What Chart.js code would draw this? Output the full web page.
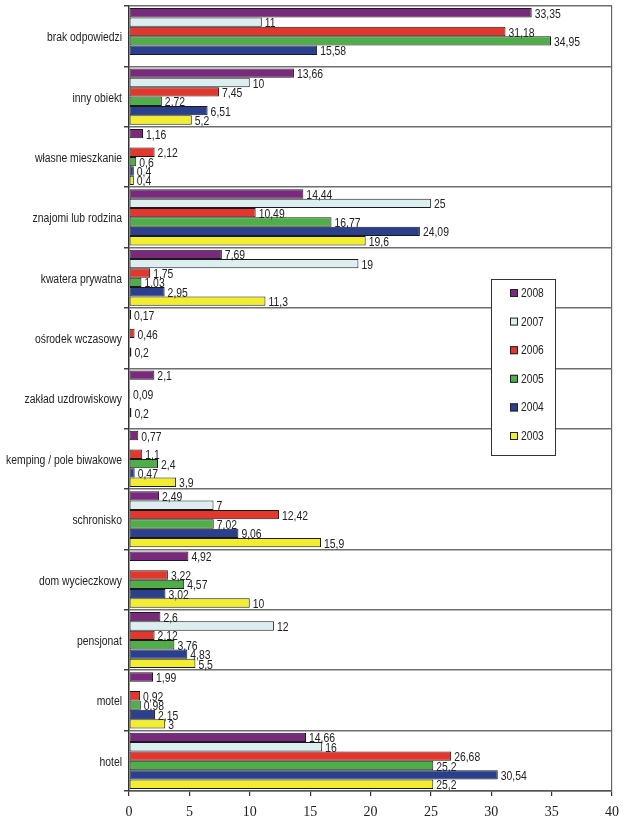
<!DOCTYPE html>
<html>
<head>
<meta charset="utf-8">
<script src="https://cdn.jsdelivr.net/npm/chart.js@4/dist/chart.umd.min.js"></script>
<style>
html,body{margin:0;padding:0;background:#fff;}
#wrap{position:relative;width:627px;height:834px;}
</style>
</head>
<body>
<div id="wrap"><canvas id="c" width="627" height="834"></canvas></div>
<script>
const categories = ["brak odpowiedzi","inny obiekt","własne mieszkanie","znajomi lub rodzina","kwatera prywatna","ośrodek wczasowy","zakład uzdrowiskowy","kemping / pole biwakowe","schronisko","dom wycieczkowy","pensjonat","motel","hotel"];
const seriesNames = ["2008","2007","2006","2005","2004","2003"];
const v2008 = [33.35,13.66,1.16,14.44,7.69,0.17,2.1,0.77,2.49,4.92,2.6,1.99,14.66];
const v2007 = [11,10,null,25,19,null,null,null,7,null,12,null,16];
const v2006 = [31.18,7.45,2.12,10.49,1.75,0.46,0.09,1.1,12.42,3.22,2.12,0.92,26.68];
const v2005 = [34.95,2.72,0.6,16.77,1.03,null,null,2.4,7.02,4.57,3.76,0.98,25.2];
const v2004 = [15.58,6.51,0.4,24.09,2.95,0.2,0.2,0.47,9.06,3.02,4.83,2.15,30.54];
const v2003 = [null,5.2,0.4,19.6,11.3,null,null,3.9,15.9,10,5.5,3,25.2];
const xTicks = [0,5,10,15,20,25,30,35,40];
const colors = ["#7a2a7c","#ddeef1","#e3372e","#4fae4a","#2a3f8e","#f2ee2e"];

const seriesValues = [v2008,v2007,v2006,v2005,v2004,v2003];
const sans = '"Liberation Sans",Arial,sans-serif';

function narrowText(ctx, text, x, y, align, sx){
  ctx.save();
  ctx.translate(x, y);
  ctx.scale(sx, 1);
  ctx.textAlign = align;
  ctx.fillText(text, 0, 0);
  ctx.restore();
}

const labelPlugin = {
  id:'valLabels',
  afterDatasetsDraw(chart){
    const ctx = chart.ctx;
    ctx.save();
    ctx.font = '13px ' + sans;
    ctx.fillStyle = '#222';
    ctx.textBaseline = 'middle';
    chart.data.datasets.forEach((ds,di)=>{
      const meta = chart.getDatasetMeta(di);
      meta.data.forEach((el,i)=>{
        const v = ds.data[i];
        if(v===null || v===undefined) return;
        narrowText(ctx, String(v).replace('.',','), el.x + 3, el.y + 1.5, 'left', 0.8);
      });
    });
    // category labels
    const ys = chart.scales.y;
    ctx.font = '12.5px ' + sans;
    categories.forEach((c,i)=>{
      narrowText(ctx, c, ys.right - 7, ys.getPixelForValue(i) + 1.5, 'right', 0.83);
    });
    ctx.restore();
  }
};

const legendPlugin = {
  id:'boxLegend',
  afterDraw(chart){
    const ctx = chart.ctx;
    const x0 = 491, y0 = 279, w = 64, h = 176;
    ctx.save();
    ctx.fillStyle = '#fff';
    ctx.fillRect(x0,y0,w,h);
    ctx.strokeStyle = '#333';
    ctx.lineWidth = 1;
    ctx.strokeRect(x0+0.5,y0+0.5,w,h);
    ctx.font = '12.5px ' + sans;
    ctx.textBaseline = 'middle';
    seriesNames.forEach((n,i)=>{
      const cy = y0 + 14 + i*28.6;
      ctx.fillStyle = colors[i];
      ctx.fillRect(x0+19, cy-4, 8, 8);
      ctx.strokeStyle = '#222';
      ctx.strokeRect(x0+19.5, cy-3.5, 7, 7);
      ctx.fillStyle = '#222';
      narrowText(ctx, n, x0+30, cy+0.5, 'left', 0.82);
    });
    ctx.restore();
  }
};

new Chart(document.getElementById('c'), {
  type:'bar',
  data:{
    labels: categories,
    datasets: seriesNames.map((n,i)=>({
      label:n,
      data:seriesValues[i],
      backgroundColor:colors[i],
      borderColor:'#1a1a1a',
      borderWidth:1,
      borderSkipped:false,
      categoryPercentage:0.93,
      barPercentage:1.0
    }))
  },
  options:{
    indexAxis:'y',
    responsive:false,
    animation:false,
    devicePixelRatio:1,
    layout:{padding:{top:0,right:15,left:0,bottom:0}},
    plugins:{legend:{display:false},tooltip:{enabled:false}},
    scales:{
      x:{
        type:'linear',
        min:0,max:40,
        afterBuildTicks(scale){ scale.ticks = xTicks.map(v=>({value:v})); },
        afterFit(scale){ scale.height = 43; },
        grid:{
          drawOnChartArea:true,
          color:(c)=> (c.tick && c.tick.value===40) ? '#666' : 'rgba(0,0,0,0)',
          lineWidth:1.2,
          tickLength:5,
          tickColor:'#333'
        },
        border:{display:true,color:'#555',width:1.5},
        ticks:{
          color:'#222',
          font:{family:'"Liberation Serif","Times New Roman",serif',size:14},
          padding:8,
          maxRotation:0
        }
      },
      y:{
        type:'category',
        afterFit(scale){ scale.width = 129; scale.paddingTop = 6; scale.paddingBottom = 0; },
        grid:{
          offset:true,
          drawOnChartArea:true,
          color:'#6e6e6e',
          lineWidth:1.5,
          tickLength:5,
          tickColor:'#444'
        },
        border:{display:true,color:'#333',width:1.5},
        ticks:{
          color:'rgba(0,0,0,0)',
          font:{family:sans,size:12},
          padding:6,
          autoSkip:false
        }
      }
    }
  },
  plugins:[labelPlugin,legendPlugin]
});
</script>
</body>
</html>
